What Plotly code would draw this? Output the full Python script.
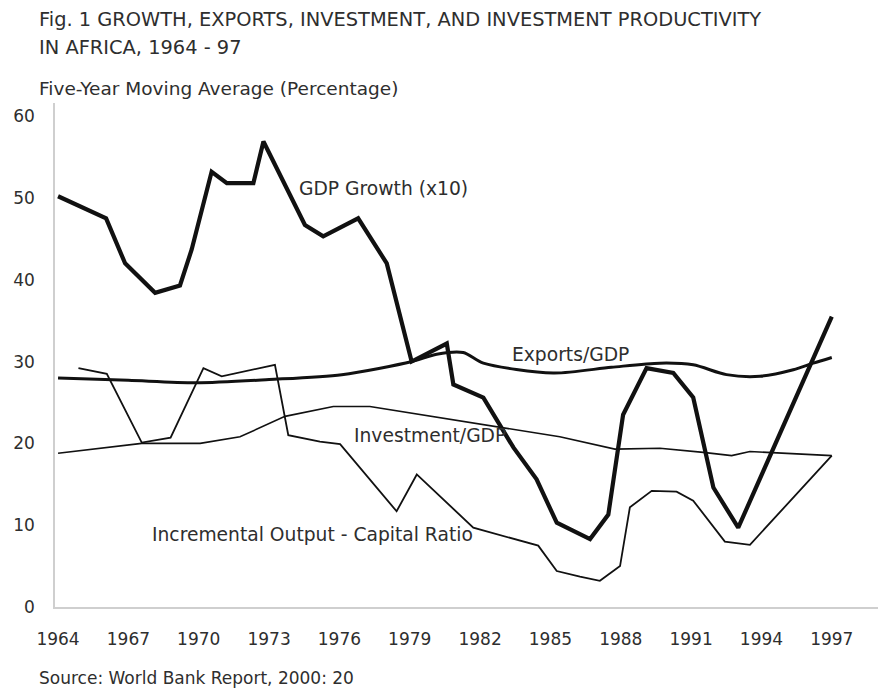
import plotly.graph_objects as go

# ---------------- data ----------------
gdp_years = [1964, 1966.05, 1966.86, 1968.14, 1969.2, 1969.7, 1970.55, 1971.2, 1972.33, 1972.76,
             1974.53, 1975.31, 1976.8, 1978.02, 1979.08, 1980.58, 1980.86, 1982.14, 1983.42,
             1984.41, 1985.27, 1986.69, 1987.47, 1988.1, 1989.1, 1990.24, 1991.09, 1991.95,
             1993.01, 1997]
gdp_growth_x10 = [50.2, 47.5, 42.0, 38.4, 39.3, 43.7, 53.2, 51.8, 51.8, 56.9,
                  46.7, 45.3, 47.5, 42.0, 30.0, 32.2, 27.2, 25.6, 19.5,
                  15.6, 10.3, 8.3, 11.3, 23.5, 29.2, 28.6, 25.6, 14.6,
                  9.7, 35.5]

exports_years = [1964, 1967, 1969.9, 1973, 1976.1, 1979.1, 1980.15, 1981.28, 1982.14, 1985.12,
                 1987.6, 1989.67, 1991.09, 1992.51, 1993.94, 1995.36, 1996.21, 1997]
exports_gdp = [28.0, 27.7, 27.4, 27.8, 28.4, 30.0, 30.9, 31.1, 29.8, 28.6,
               29.3, 29.8, 29.6, 28.4, 28.2, 29.0, 29.8, 30.5]

invest_years = [1964, 1967.57, 1970.06, 1971.76, 1973.68, 1975.74, 1977.3, 1985.4, 1987.75,
                1989.67, 1991.52, 1992.73, 1993.51, 1997]
investment_gdp = [18.8, 20.0, 20.0, 20.8, 23.3, 24.5, 24.5, 20.8, 19.3,
                  19.4, 18.9, 18.5, 19.0, 18.5]

icor_years = [1964.87, 1966.08, 1967.57, 1968.8, 1970.2, 1970.98, 1973.25, 1973.82, 1975.17,
              1976.03, 1978.44, 1979.3, 1981.71, 1984.48, 1985.27, 1986.26, 1987.11, 1987.97,
              1988.39, 1989.32, 1990.38, 1991.09, 1992.44, 1993.51, 1997]
icor = [29.2, 28.5, 20.1, 20.7, 29.2, 28.2, 29.6, 21.0, 20.2,
        19.9, 11.7, 16.2, 9.7, 7.5, 4.4, 3.7, 3.2, 5.0,
        12.2, 14.2, 14.1, 13.0, 8.0, 7.6, 18.5]

x_ticks = [1964, 1967, 1970, 1973, 1976, 1979, 1982, 1985, 1988, 1991, 1994, 1997]
y_ticks = [0, 10, 20, 30, 40, 50, 60]

series_labels = ["GDP Growth (x10)", "Exports/GDP", "Investment/GDP",
                 "Incremental Output - Capital Ratio"]
label_x = [1974.19, 1983.27, 1976.54, 1967.92]
label_y = [51.2, 30.85, 20.98, 8.9]

title_lines = ["Fig. 1 GROWTH, EXPORTS, INVESTMENT, AND INVESTMENT PRODUCTIVITY",
               "IN AFRICA, 1964 - 97"]
y_title = "Five-Year Moving Average (Percentage)"
source = "Source: World Bank Report, 2000: 20"

# ---------------- figure ----------------
# the page body has an 8px default margin, so the figure is drawn 8px smaller
OFF = 8
W, H = 886 - OFF, 692 - OFF
ML, MR, MT, MB = 55 - OFF, 1, 103 - OFF, 85
FONT = "DejaVu Sans"
TXT = "#2e2e2e"
LINE = "#111111"

fig = go.Figure()
fig.add_trace(go.Scatter(x=exports_years, y=exports_gdp, mode="lines",
                         line=dict(color=LINE, width=3, shape="spline", smoothing=0.8)))
fig.add_trace(go.Scatter(x=invest_years, y=investment_gdp, mode="lines",
                         line=dict(color=LINE, width=1.6)))
fig.add_trace(go.Scatter(x=icor_years, y=icor, mode="lines",
                         line=dict(color=LINE, width=1.8)))
fig.add_trace(go.Scatter(x=gdp_years, y=gdp_growth_x10, mode="lines",
                         line=dict(color=LINE, width=4.2)))

annotations = []
for t, xx, yy in zip(series_labels, label_x, label_y):
    annotations.append(dict(x=xx, y=yy, xref="x", yref="y", text=t, showarrow=False,
                            xanchor="left", yanchor="middle",
                            font=dict(family=FONT, size=18.7, color=TXT)))

pw = W - ML - MR
ph = H - MT - MB


def px2paper(px, py):
    # px, py are positions in the reference picture
    return (px - OFF - ML) / pw, (H - MB - (py - OFF)) / ph


for txt, py, sz in [(title_lines[0], 20, 19.4), (title_lines[1], 48, 19.4),
                    (y_title, 88, 18.5), (source, 678, 17)]:
    xx, yy = px2paper(37, py)
    annotations.append(dict(x=xx, y=yy, xref="paper", yref="paper", text=txt, showarrow=False,
                            xanchor="left", yanchor="middle",
                            font=dict(family=FONT, size=sz, color=TXT)))

fig.update_layout(
    width=W, height=H,
    margin=dict(l=ML, r=MR, t=MT, b=MB, pad=0, autoexpand=False),
    paper_bgcolor="white", plot_bgcolor="white",
    showlegend=False,
    annotations=annotations,
    font=dict(family=FONT, size=17, color=TXT),
)
fig.update_xaxes(range=[1963.87, 1999.27], tickvals=x_ticks, ticktext=[str(v) for v in x_ticks],
                 showgrid=False, zeroline=False, showline=True, linecolor="#cfcfcf", linewidth=1.5,
                 ticks="", ticklabelstandoff=16, automargin=False,
                 tickfont=dict(family=FONT, size=17, color=TXT))
fig.update_yaxes(range=[0, 61.6], tickvals=y_ticks, showgrid=False, zeroline=False,
                 showline=True, linecolor="#cfcfcf", linewidth=1.5,
                 ticks="", ticklabelstandoff=15, automargin=False,
                 tickfont=dict(family=FONT, size=17, color=TXT))

fig.write_html("out.html")
